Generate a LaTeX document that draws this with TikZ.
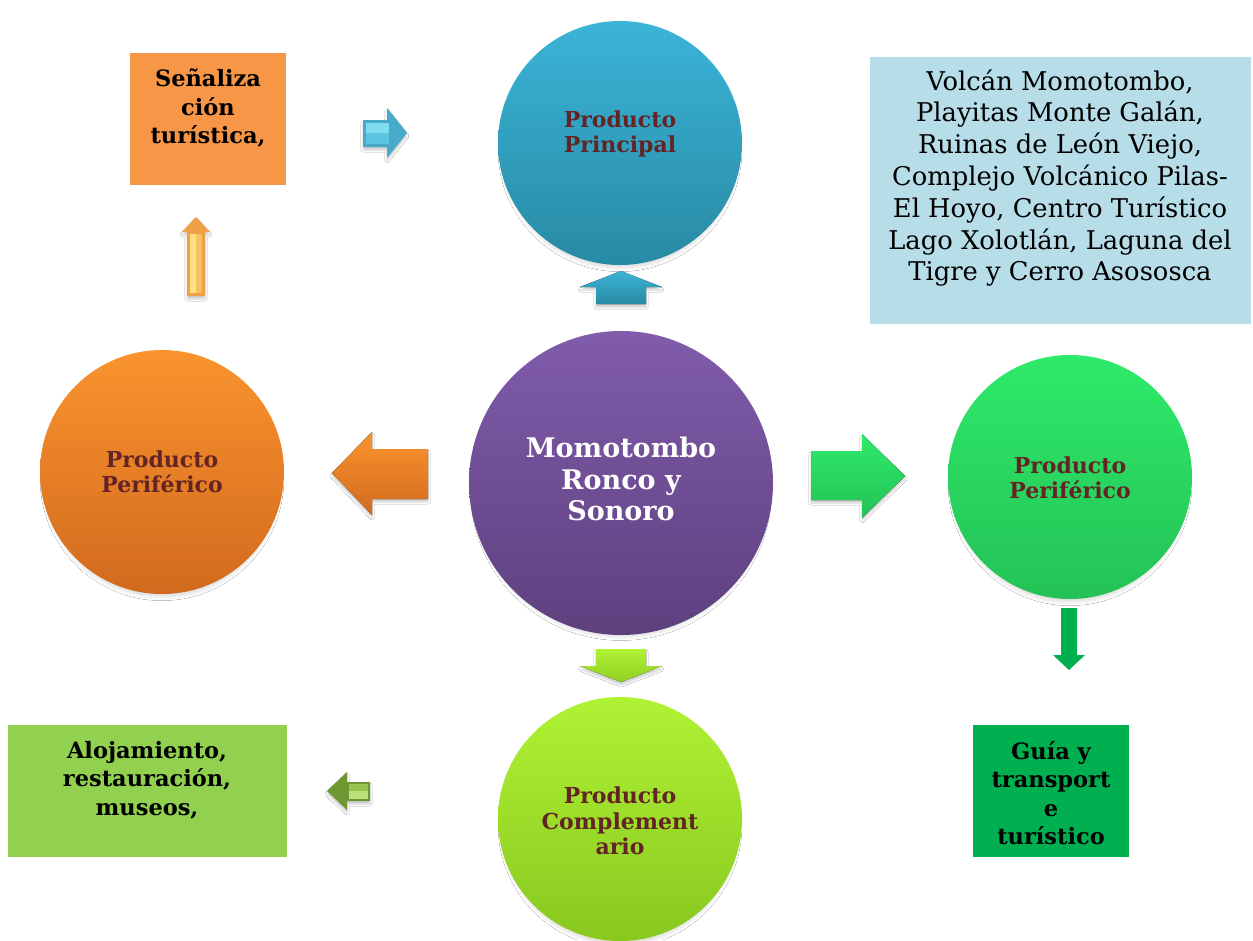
\documentclass[tikz,border=0pt]{standalone}
\usepackage{fontspec}
\setmainfont{DejaVu Serif}
\usetikzlibrary{shadows.blur}
\definecolor{dred}{HTML}{632423}
\definecolor{cOrangeBox}{HTML}{F79646}
\definecolor{cBlueBox}{HTML}{B7DDE8}
\definecolor{cLimeBox}{HTML}{92D050}
\definecolor{cGreenBox}{HTML}{00B050}
\definecolor{blueT}{RGB}{59,180,216}\definecolor{blueB}{RGB}{40,138,164}
\definecolor{purT}{RGB}{128,92,172}\definecolor{purB}{RGB}{94,64,126}
\definecolor{orT}{RGB}{250,148,46}\definecolor{orB}{RGB}{210,106,30}
\definecolor{grT}{RGB}{46,234,106}\definecolor{grB}{RGB}{36,194,86}
\definecolor{liT}{RGB}{176,242,52}\definecolor{liB}{RGB}{136,200,32}
\definecolor{cyA}{RGB}{70,170,200}\definecolor{cyB}{RGB}{130,220,240}\definecolor{cyC}{RGB}{90,196,226}
\definecolor{oaA}{RGB}{240,160,70}\definecolor{oaB}{RGB}{255,224,130}\definecolor{oaC}{RGB}{248,190,100}
\definecolor{olA}{RGB}{110,150,50}\definecolor{olB}{RGB}{150,196,80}\definecolor{olC}{RGB}{186,226,120}
\tikzset{
  bigcirc/.style={circle, minimum size=244pt, inner sep=0pt,
    blur shadow={shadow xshift=0pt, shadow yshift=-7pt, shadow scale=0.96, shadow blur radius=5pt, shadow blur steps=8, shadow opacity=18}},
  circtxt/.style={align=center, text=dred, font=\fontsize{22}{25.5}\selectfont\bfseries, inner sep=0pt},
  boxbg/.style={rectangle, inner sep=0pt, anchor=north west},
  boxtxt/.style={align=center, font=\fontsize{22.5}{28.5}\selectfont\bfseries, inner sep=0pt},
  ashadow/.style={blur shadow={shadow xshift=0pt,shadow yshift=-3pt,shadow opacity=20}},
}
\begin{document}
\begin{tikzpicture}[x=1pt,y=-1pt]
\useasboundingbox (0,0) rectangle (1253,940);
\fill[white] (0,0) rectangle (1253,940);
% boxes
\node[boxbg, fill=cOrangeBox, minimum width=156pt, minimum height=132pt] (senal) at (130,53) {};
\node[boxtxt] (senalt) at (208,108) {Señaliza\\ción\\turística,};
\node[boxbg, fill=cBlueBox, minimum width=381pt, minimum height=267pt] (blue) at (870,57) {};
\node[font=\fontsize{25.8}{31.8}\selectfont, align=center, inner sep=0pt] (bluet) at (1060,178) {Volcán Momotombo,\\Playitas Monte Galán,\\Ruinas de León Viejo,\\Complejo Volcánico Pilas-\\El Hoyo, Centro Turístico\\Lago Xolotlán, Laguna del\\Tigre y Cerro Asososca};
\node[boxbg, fill=cLimeBox, minimum width=279pt, minimum height=132pt] (aloj) at (8,725) {};
\node[boxtxt] (alojt) at (147,780) {Alojamiento,\\restauración,\\museos,};
\node[boxbg, fill=cGreenBox, minimum width=156pt, minimum height=132pt] (guia) at (973,725) {};
\node[boxtxt] (guiat) at (1051,793) {Guía y\\transport\\e\\turístico};
% circles
\node[bigcirc, top color=blueT, bottom color=blueB] (top) at (620,143) {};
\node[circtxt] (toptxt) at (620,134) {Producto\\Principal};
\node[bigcirc, minimum size=304pt, top color=purT, bottom color=purB] (center) at (621,483) {};
\node[circtxt, text=white, font=\fontsize{27}{31.5}\selectfont\bfseries] (centertxt) at (621,479) {Momotombo\\Ronco y\\Sonoro};
\node[bigcirc, top color=orT, bottom color=orB] (left) at (162,472) {};
\node[circtxt] (lefttxt) at (162,472) {Producto\\Periférico};
\node[bigcirc, top color=grT, bottom color=grB] (right) at (1070,477) {};
\node[circtxt] (righttxt) at (1070,478) {Producto\\Periférico};
\node[bigcirc, top color=liT, bottom color=liB] (bottom) at (620,819) {};
\node[circtxt] (bottomtxt) at (620,821) {Producto\\Complement\\ario};
% block arrows
\fill[top color=blueT, bottom color=blueB, ashadow]
  (621,271) -- (662,287) -- (646,287) -- (646,304) -- (596,304) -- (596,287) -- (580,287) -- cycle;
\fill[top color=liT, bottom color=liB!80!liT, ashadow]
  (596,649) -- (646,649) -- (646,666) -- (662,666) -- (621,682) -- (580,666) -- (596,666) -- cycle;
\fill[top color=orT, bottom color=orB, ashadow]
  (332,473) -- (372,432) -- (372,449) -- (428,449) -- (428,499) -- (372,499) -- (372,515) -- cycle;
\fill[top color=grT, bottom color=grB, ashadow]
  (811,451) -- (862,451) -- (862,434) -- (905,476) -- (862,518) -- (862,500) -- (811,500) -- cycle;
\fill[cGreenBox]
  (1061,608) -- (1077,608) -- (1077,655) -- (1085,655) -- (1069,670) -- (1053,655) -- (1061,655) -- cycle;
% small bevel arrows
\fill[cyA, ashadow]
  (363,120) -- (387,120) -- (387,108) -- (407,133) -- (387,158) -- (387,147) -- (363,147) -- cycle;
\fill[cyB] (366,123) rectangle (389,133);
\fill[cyC] (366,133) rectangle (389,144);
\fill[oaA, ashadow]
  (196,217) -- (210,232) -- (205,232) -- (205,296) -- (187,296) -- (187,232) -- (182,232) -- cycle;
\fill[oaB] (190,234) rectangle (196,293);
\fill[oaC] (196,234) rectangle (202,293);
\fill[olA, ashadow]
  (327,791) -- (347,772) -- (347,782) -- (370,782) -- (370,801) -- (347,801) -- (347,810) -- cycle;
\fill[olB] (349,784) rectangle (368,791);
\fill[olC] (349,791) rectangle (368,799);
\end{tikzpicture}
\end{document}
